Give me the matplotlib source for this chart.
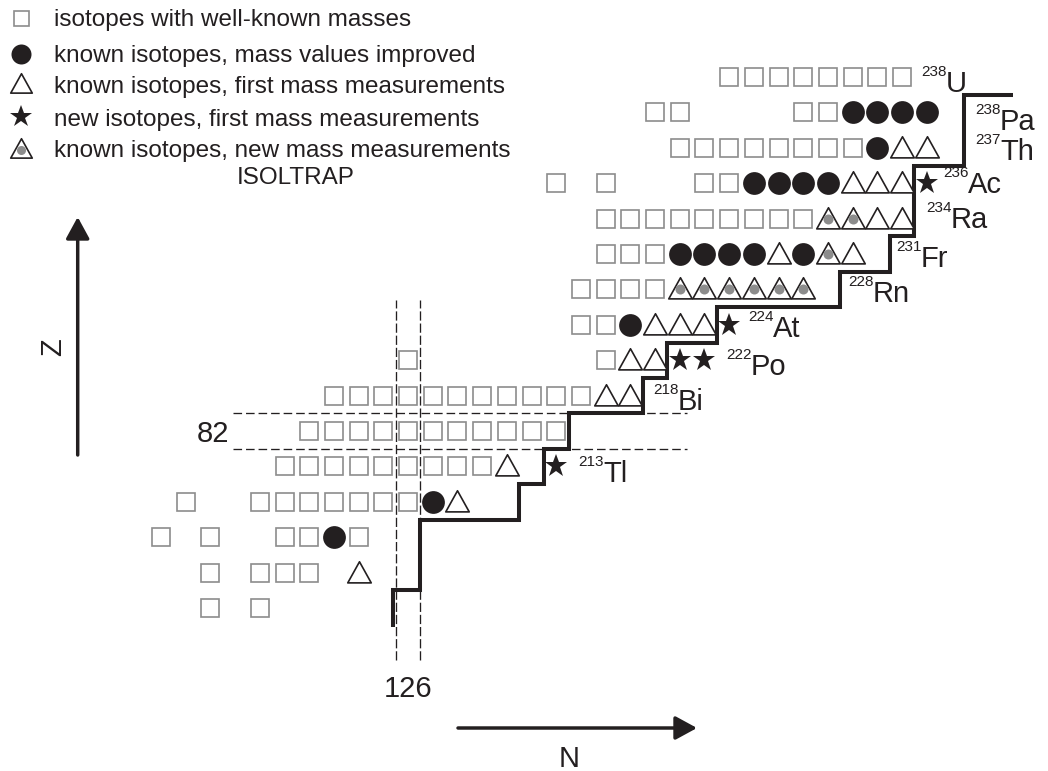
import matplotlib
matplotlib.use('Agg')
import matplotlib.pyplot as plt
from matplotlib.path import Path

plt.rcParams['font.family'] = ['Liberation Sans', 'DejaVu Sans']

# nuclides on the chart: (Z, list of N) per symbol kind
well_known = [  # squares
    (92, [139, 140, 141, 142, 143, 144, 145, 146]),
    (91, [136, 137, 142, 143]),
    (90, [137, 138, 139, 140, 141, 142, 143, 144]),
    (89, [132, 134, 138, 139]),
    (88, [134, 135, 136, 137, 138, 139, 140, 141, 142]),
    (87, [134, 135, 136]),
    (86, [133, 134, 135, 136]),
    (85, [133, 134]),
    (84, [126, 134]),
    (83, [123, 124, 125, 126, 127, 128, 129, 130, 131, 132, 133]),
    (82, [122, 123, 124, 125, 126, 127, 128, 129, 130, 131, 132]),
    (81, [121, 122, 123, 124, 125, 126, 127, 128, 129]),
    (80, [117, 120, 121, 122, 123, 124, 125, 126]),
    (79, [116, 118, 121, 122, 124]),
    (78, [118, 120, 121, 122]),
    (77, [118, 120]),
]
improved = [  # filled circles
    (91, [144, 145, 146, 147]),
    (90, [145]),
    (89, [140, 141, 142, 143]),
    (87, [137, 138, 139, 140, 142]),
    (85, [135]),
    (80, [127]),
    (79, [123]),
]
first_known = [  # open triangles
    (90, [146, 147]),
    (89, [144, 145, 146]),
    (88, [145, 146]),
    (87, [141, 144]),
    (85, [136, 137, 138]),
    (84, [135, 136]),
    (83, [134, 135]),
    (81, [130]),
    (80, [128]),
    (78, [124]),
]
new_known = [  # triangles with grey dot
    (88, [143, 144]),
    (87, [143]),
    (86, [137, 138, 139, 140, 141, 142]),
]
new_isotopes = [  # stars
    (89, [147]),
    (85, [139]),
    (84, [137, 138]),
    (81, [132]),
]

# border of the previously known region
border_N = [125.4, 125.4, 126.5, 126.5, 130.5, 130.5, 131.5, 131.5, 132.5, 132.5,
            135.5, 135.5, 136.5, 136.5, 138.5, 138.5, 143.5, 143.5, 145.5, 145.5,
            146.5, 146.5, 148.5, 148.5, 150.5]
border_Z = [76.45, 77.5, 77.5, 79.5, 79.5, 80.5, 80.5, 81.5, 81.5, 82.5,
            82.5, 83.5, 83.5, 84.5, 84.5, 85.5, 85.5, 86.5, 86.5, 87.5,
            87.5, 89.5, 89.5, 91.5, 91.5]

# heaviest isotope labels: mass number, symbol, Z, N
label_mass = ['238', '238', '237', '236', '234', '231', '228', '224', '222', '218', '213']
label_sym = ['U', 'Pa', 'Th', 'Ac', 'Ra', 'Fr', 'Rn', 'At', 'Po', 'Bi', 'Tl']
label_Z = [92, 91, 90, 89, 88, 87, 86, 85, 84, 83, 81]
label_N = [146, 147, 147, 147, 146, 144, 142, 139, 138, 135, 132]

legend_labels = ['isotopes with well-known masses',
                 'known isotopes, mass values improved',
                 'known isotopes, first mass measurements',
                 'new isotopes, first mass measurements',
                 'known isotopes, new mass measurements']

# ---- layout ----
W, H = 1048, 771
DX, DY = 24.7, 35.4           # pixels per neutron / per proton
X126, Y82 = 408, 431          # pixel centre of N=126, Z=82
INK = '#231f20'
GREY = '#8c8c8c'
label_off = [(1.78, -0.42), (2.97, -0.50), (2.97, -0.34), (1.67, -0.28),
             (1.98, -0.27), (2.77, -0.37), (2.83, -0.36), (1.78, -0.34),
             (1.89, -0.42), (1.93, -0.41), (1.90, -0.44)]

tri = Path([(-1, -0.8), (1, -0.8), (0, 1.0), (-1, -0.8)], closed=True)

sq_kw = dict(marker='s', ms=13.4, mfc='white', mec=GREY, mew=1.2, ls='none')
ci_kw = dict(marker='o', ms=16.4, mfc=INK, mec=INK, mew=0, ls='none')
tr_kw = dict(marker=tri, ms=16.9, mfc='white', mec=INK, mew=1.2, ls='none')
dot_kw = dict(marker='o', ms=7.2, mfc=GREY, mec=GREY, mew=0, ls='none')
st_kw = dict(marker='*', ms=17.0, mfc=INK, mec=INK, mew=0, ls='none')


def fig_xy(x, y):
    # top-left pixel position -> figure fraction
    return x / W, 1 - y / H


def flatten(rows):
    ns, zs = [], []
    for z, nlist in rows:
        ns += nlist
        zs += [z] * len(nlist)
    return ns, zs


fig = plt.figure(figsize=(W / 100, H / 100), dpi=100)
ax = fig.add_axes([0, 0, 1, 1])
ax.set_xlim(126 - X126 / DX, 126 + (W - X126) / DX)
ax.set_ylim(82 - (H - Y82) / DY, 82 + Y82 / DY)
ax.axis('off')

n, z = flatten(well_known)
ax.plot(n, z, clip_on=False, **sq_kw)

# magic number lines N=126, Z=82
for zz in (81.5, 82.5):
    ax.plot([118.92, 137.3], [zz, zz], color=INK, lw=0.95, dashes=(6.5, 3.0))
for nn in (125.5, 126.5):
    ax.plot([nn, nn], [75.53, 85.7], color=INK, lw=0.95, dashes=(7.0, 2.2))

ax.plot(border_N, border_Z, color=INK, lw=2.9, solid_joinstyle='miter',
        solid_capstyle='butt')

n, z = flatten(improved)
ax.plot(n, z, **ci_kw)
n, z = flatten(first_known)
ax.plot(n, z, **tr_kw)
n, z = flatten(new_known)
ax.plot(n, z, **tr_kw)
ax.plot(n, z, **dot_kw)
n, z = flatten(new_isotopes)
ax.plot(n, z, **st_kw)

for mass, sym, zz, nn, (dn, dz) in zip(label_mass, label_sym, label_Z, label_N, label_off):
    ax.text(nn + dn, zz + dz, sym, fontsize=21, color=INK, ha='left', va='baseline')
    ax.text(nn + dn + 0.04, zz + dz + 0.46, mass, fontsize=11, color=INK,
            ha='right', va='baseline')

ax.text(118.75, 81.69, '82', fontsize=21, color=INK, ha='right', va='baseline')
ax.text(126, 74.49, '126', fontsize=21, color=INK, ha='center', va='baseline')

# axis arrows
arrow = dict(arrowstyle='-|>,head_length=0.55,head_width=0.3', lw=2.5, color=INK,
             mutation_scale=24, shrinkA=0, shrinkB=0)
ax.annotate('', xy=fig_xy(77.7, 217), xytext=fig_xy(77.7, 455),
            xycoords='figure fraction', textcoords='figure fraction', arrowprops=arrow)
ax.annotate('', xy=fig_xy(697, 728), xytext=fig_xy(458, 728),
            xycoords='figure fraction', textcoords='figure fraction', arrowprops=arrow)
fig.text(*fig_xy(53, 347), 'Z', fontsize=21, color=INK, rotation=90,
         ha='center', va='center')
fig.text(*fig_xy(569, 767), 'N', fontsize=21, color=INK, ha='center', va='baseline')

# legend
leg_base = [26.2, 62.2, 92.7, 125.7, 157.2]
leg_kw = [dict(sq_kw, ms=10.8), dict(ci_kw, ms=14.4), dict(tr_kw, ms=15.5),
          dict(st_kw, ms=16.6), dict(tr_kw, ms=15.5)]
for text, base, kw in zip(legend_labels, leg_base, leg_kw):
    mx, my = fig_xy(21, base - 8.7)
    fig.lines.append(plt.Line2D([mx], [my], transform=fig.transFigure, **kw))
    fig.text(*fig_xy(53.5, base), text, fontsize=17.5, color=INK, va='baseline')
mx, my = fig_xy(21, leg_base[4] - 7.5)
fig.lines.append(plt.Line2D([mx], [my], transform=fig.transFigure, **dict(dot_kw, ms=6.5)))
fig.text(*fig_xy(236.5, 184), 'ISOLTRAP', fontsize=17.5, color=INK, va='baseline')

fig.savefig('out.png', dpi=100)
